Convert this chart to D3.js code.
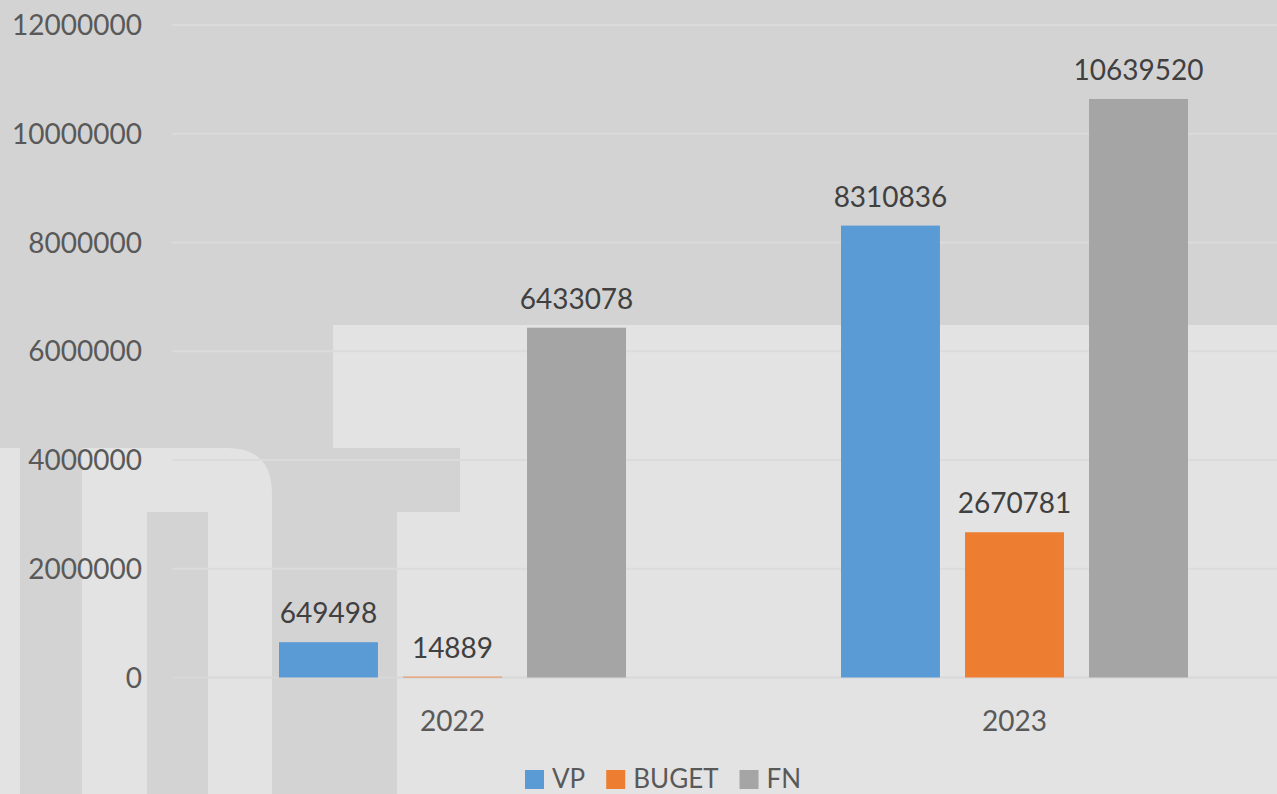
<!DOCTYPE html>
<meta charset="utf-8">
<script src="https://cdn.jsdelivr.net/npm/d3@7/dist/d3.min.js"></script>
<style>
    body { margin: 0; background: #e3e3e3; }
    svg { display: block; font-family: Lato, "Open Sans", sans-serif; }
</style>
<svg width="1277" height="794"></svg>
<script>
    // chart data
    var years = ["2022", "2023"];
    var seriesNames = ["VP", "BUGET", "FN"];
    var vpValues = [649498, 8310836];
    var bugetValues = [14889, 2670781];
    var fnValues = [6433078, 10639520];
    var yTickValues = [0, 2000000, 4000000, 6000000, 8000000, 10000000, 12000000];

    var svg = d3.select("svg"),
        width = +svg.attr("width"),
        height = +svg.attr("height");

    var allValues = [vpValues, bugetValues, fnValues];

    // background watermark shapes
    var bg = svg.append("g");
    bg.append("rect").attr("width", width).attr("height", height).attr("fill", "#e3e3e3");
    bg.append("path")
        .attr("fill", "#d3d3d3")
        .attr("d", "M0,0 H1277 V325 H333 V448 H460 V512 H397 V794 H272 V494 Q272,448 227,448 H82 V794 H20 V448 H0 Z");
    bg.append("rect").attr("x", 147).attr("y", 512).attr("width", 61).attr("height", 282).attr("fill", "#d3d3d3");

    var x0 = d3.scaleBand().domain(years).range([171.5, 1295.5]);
    var groupWidth = 347;
    var x1 = d3.scaleBand().domain(seriesNames)
        .range([-groupWidth / 2, groupWidth / 2])
        .paddingInner(0.202);

    var y = d3.scaleLinear().domain([0, 12000000]).range([677.5, 25]);

    var color = d3.scaleOrdinal().domain(seriesNames).range(["#5b9bd5", "#ed7d31", "#a5a5a5"]);

    // gridlines
    svg.append("g").selectAll("line")
        .data(yTickValues)
        .enter().append("line")
        .attr("x1", 172).attr("x2", width)
        .attr("y1", function (d) { return y(d); })
        .attr("y2", function (d) { return y(d); })
        .attr("stroke", function (d) { return d === 0 ? "#d8d8d8" : "#dbdbdb"; })
        .attr("stroke-width", 2);

    // y tick labels
    svg.append("g").selectAll("text")
        .data(yTickValues)
        .enter().append("text")
        .attr("x", 142)
        .attr("y", function (d) { return y(d) + 10; })
        .attr("text-anchor", "end")
        .attr("fill", "#595959")
        .style("font-size", "28px")
        .text(function (d) { return d; });

    // bars
    var rows = [];
    years.forEach(function (yr, i) {
        seriesNames.forEach(function (s, j) {
            rows.push({year: yr, series: s, value: allValues[j][i]});
        });
    });

    var barX = function (d) {
        return x0(d.year) + x0.bandwidth() / 2 + x1(d.series);
    };

    svg.append("g").selectAll("rect")
        .data(rows)
        .enter().append("rect")
        .attr("x", barX)
        .attr("width", x1.bandwidth())
        .attr("y", function (d) { return y(d.value); })
        .attr("height", function (d) { return y(0) - y(d.value); })
        .attr("fill", function (d) { return color(d.series); });

    // data labels
    svg.append("g").selectAll("text")
        .data(rows)
        .enter().append("text")
        .attr("x", function (d) { return barX(d) + x1.bandwidth() / 2; })
        .attr("y", function (d) { return y(d.value) - 19; })
        .attr("text-anchor", "middle")
        .attr("fill", "#404040")
        .style("font-size", "28px")
        .text(function (d) { return d.value; });

    // category labels
    svg.append("g").selectAll("text")
        .data(years)
        .enter().append("text")
        .attr("x", function (d) { return x0(d) + x0.bandwidth() / 2; })
        .attr("y", 731)
        .attr("text-anchor", "middle")
        .attr("fill", "#595959")
        .style("font-size", "28px")
        .text(function (d) { return d; });

    // legend (kept just inside the bottom edge)
    var legend = svg.append("g");
    var lx = 525;
    seriesNames.forEach(function (s) {
        legend.append("rect")
            .attr("x", lx).attr("y", 770)
            .attr("width", 19).attr("height", 19)
            .attr("fill", color(s));
        var t = legend.append("text")
            .attr("x", lx + 27).attr("y", 788)
            .attr("fill", "#595959")
            .style("font-size", "26px")
            .text(s);
        lx += 27 + t.node().getComputedTextLength() + 21;
    });
</script>
